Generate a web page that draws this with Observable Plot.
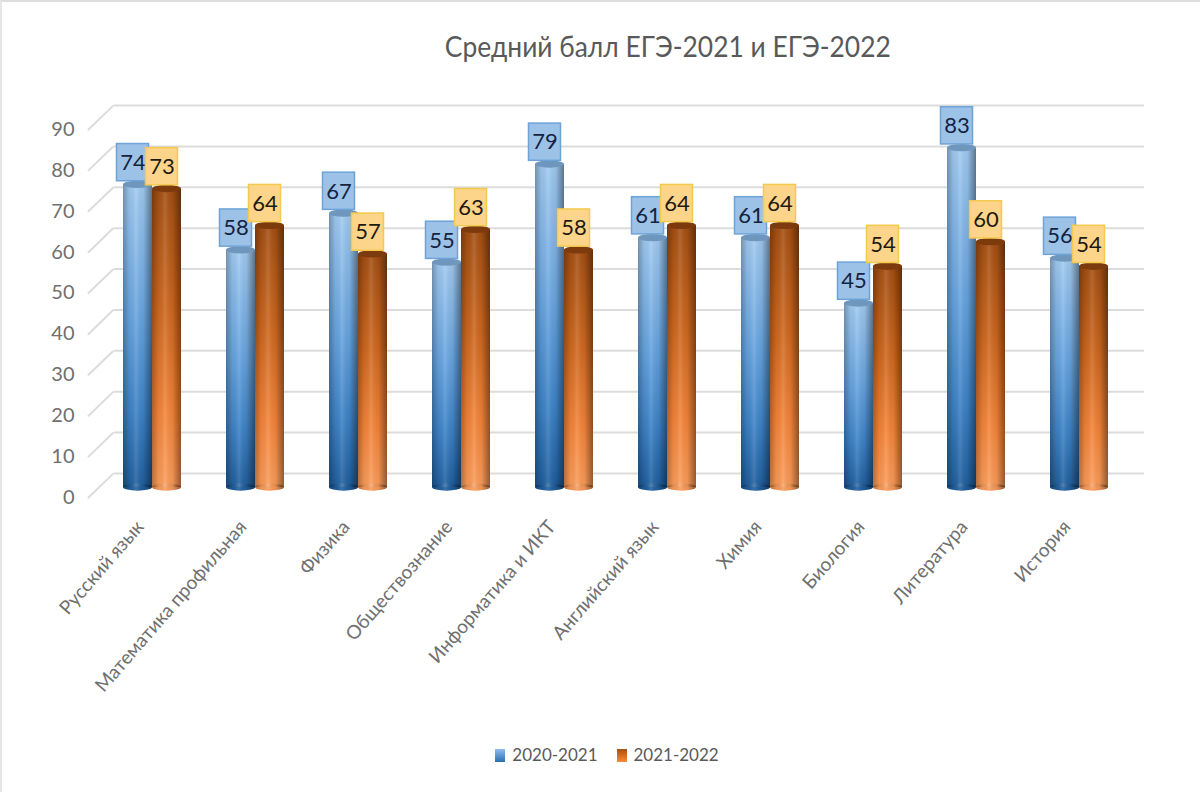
<!DOCTYPE html>
<html lang="ru"><head><meta charset="utf-8">
<script src="https://cdn.jsdelivr.net/npm/d3@7"></script>
<script src="https://cdn.jsdelivr.net/npm/@observablehq/plot@0.6"></script>
<style>
html,body{margin:0;padding:0;background:#fff}
#page{position:relative;width:1200px;height:792px;overflow:hidden;box-sizing:border-box;border-top:2px solid #dedede;border-left:2px solid #e6e6e6;font-family:Lato,sans-serif}
#title{position:absolute;left:0;top:26px;width:1332px;text-align:center;font-size:29px;color:#595959;line-height:36px;transform:scaleX(.91);transform-origin:664px 0}
#chart{position:absolute;left:-2px;top:88px}
#legend{position:absolute;left:0;top:741px;width:1210px;display:flex;justify-content:center;gap:19px;font-size:17px;color:#595959;line-height:24px}
#legend span{display:flex;align-items:center;gap:7px}
#legend i{display:block;width:10px;height:13px}
</style></head><body>
<div id="page">
<div id="title">Средний балл ЕГЭ-2021 и ЕГЭ-2022</div>
<div id="chart"></div>
<div id="legend">
<span><i style="background:linear-gradient(#8dbdec,#2a6eb0)"></i>2020-2021</span>
<span><i style="background:linear-gradient(#a8500f,#f98a3c)"></i>2021-2022</span>
</div>
</div>
<script>
const subjects = ["Русский язык","Математика профильная","Физика","Обществознание","Информатика и ИКТ","Английский язык","Химия","Биология","Литература","История"];
const seriesNames = ["2020-2021","2021-2022"];
const values2021 = [74,58,67,55,79,61,61,45,83,56];
const values2022 = [73,64,57,63,58,64,64,54,60,54];
const yTicks = [0,10,20,30,40,50,60,70,80,90];

const rows = (vals, s) => vals.map((v,i)=>({subject:subjects[i],series:s,value:v}));
const blue = rows(values2021, seriesNames[0]);
const orange = rows(values2022, seriesNames[1]);

function cylinder(data, bodyFill, capFill, bottomFill){
  const common = {fx:"subject", x:"series"};
  return [
    Plot.barY(data,{...common,y1:()=>-0.9,y2:()=>0.9,fill:bottomFill,rx:15,ry:4}),
    Plot.barY(data,{...common,y1:()=>0,y2:"value",fill:bodyFill}),
    Plot.barY(data,{...common,y1:()=>-0.9,y2:()=>0.9,fill:"url(#shade)",rx:15,ry:4}),
    Plot.barY(data,{...common,y1:()=>0,y2:"value",fill:"url(#shade)"}),
    Plot.barY(data,{...common,y1:d=>d.value-0.9,y2:d=>d.value+0.9,fill:capFill,rx:15,ry:4})
  ];
}
function label(data, fill, stroke, ink){
  return [
    Plot.barY(data,{fx:"subject",x:"series",y1:d=>d.value+0.9,y2:d=>d.value+10,fill,stroke,strokeWidth:1.5,dx:-5,insetLeft:-1.5,insetRight:-1.5}),
    Plot.text(data,{fx:"subject",x:"series",y:d=>d.value+5.4,text:d=>String(d.value),dx:-5,fontSize:22,fill:ink})
  ];
}
const grid = "#dcdcdc";
const spoke = {draw(c,l){c.moveTo(0,0);c.lineTo(0,-l);}};

const chart = Plot.plot({
  width:1200,height:640,
  marginLeft:100,marginRight:70,marginTop:29,marginBottom:243,
  style:{fontFamily:"Lato,sans-serif",background:"transparent"},
  fx:{domain:subjects,padding:0,label:null},
  x:{domain:seriesNames,paddingInner:0,paddingOuter:0.717,axis:null},
  y:{domain:[0,90],label:null},
  marks:[
    Plot.ruleY(yTicks,{y:d=>d,dx:14,dy:-14,stroke:grid,strokeWidth:2}),
    Plot.vector(yTicks,{fx:()=>subjects[0],y:d=>d,frameAnchor:"left",dx:-12,dy:10,length:34,rotate:46,anchor:"start",shape:spoke,stroke:grid,strokeWidth:2}),
    Plot.axisY({ticks:yTicks,tickSize:0,tickPadding:26,dy:10,fontSize:20,fill:"#6f6f6f",label:null}),
    Plot.axisFx({anchor:"bottom",tickSize:0,tickPadding:36,dx:-12,tickRotate:-49,fontSize:19,fill:"#6f6f6f",label:null}),
    ...cylinder(blue,"url(#blueBody)","#6f97bd","#1f5e9e"),
    ...cylinder(orange,"url(#orangeBody)","#7c3a0d","#fa9a58"),
    ...label(blue,"#9cc2e8","#6ea3d8","#14233f"),
    ...label(orange,"#fdd58a","#f3c94e","#1f1a10")
  ]
});
d3.select(chart).insert("defs",":first-child").html(`
<linearGradient id="blueBody" x1="0" y1="1" x2="0" y2="0">
 <stop offset="0" stop-color="#1f5f9f"/><stop offset=".25" stop-color="#3d83c8"/><stop offset=".55" stop-color="#66a4e0"/><stop offset="1" stop-color="#a2cbf2"/>
</linearGradient>
<linearGradient id="orangeBody" x1="0" y1="1" x2="0" y2="0">
 <stop offset="0" stop-color="#fc9d5a"/><stop offset=".25" stop-color="#f5853a"/><stop offset=".6" stop-color="#cf681f"/><stop offset="1" stop-color="#a44f12"/>
</linearGradient>
<linearGradient id="shade" x1="0" y1="0" x2="1" y2="0">
 <stop offset="0" stop-color="#000" stop-opacity=".28"/><stop offset=".22" stop-color="#000" stop-opacity=".05"/><stop offset=".45" stop-color="#fff" stop-opacity=".12"/><stop offset=".7" stop-color="#000" stop-opacity=".05"/><stop offset="1" stop-color="#000" stop-opacity=".42"/>
</linearGradient>`);
document.getElementById("chart").append(chart);
</script>
</body></html>
